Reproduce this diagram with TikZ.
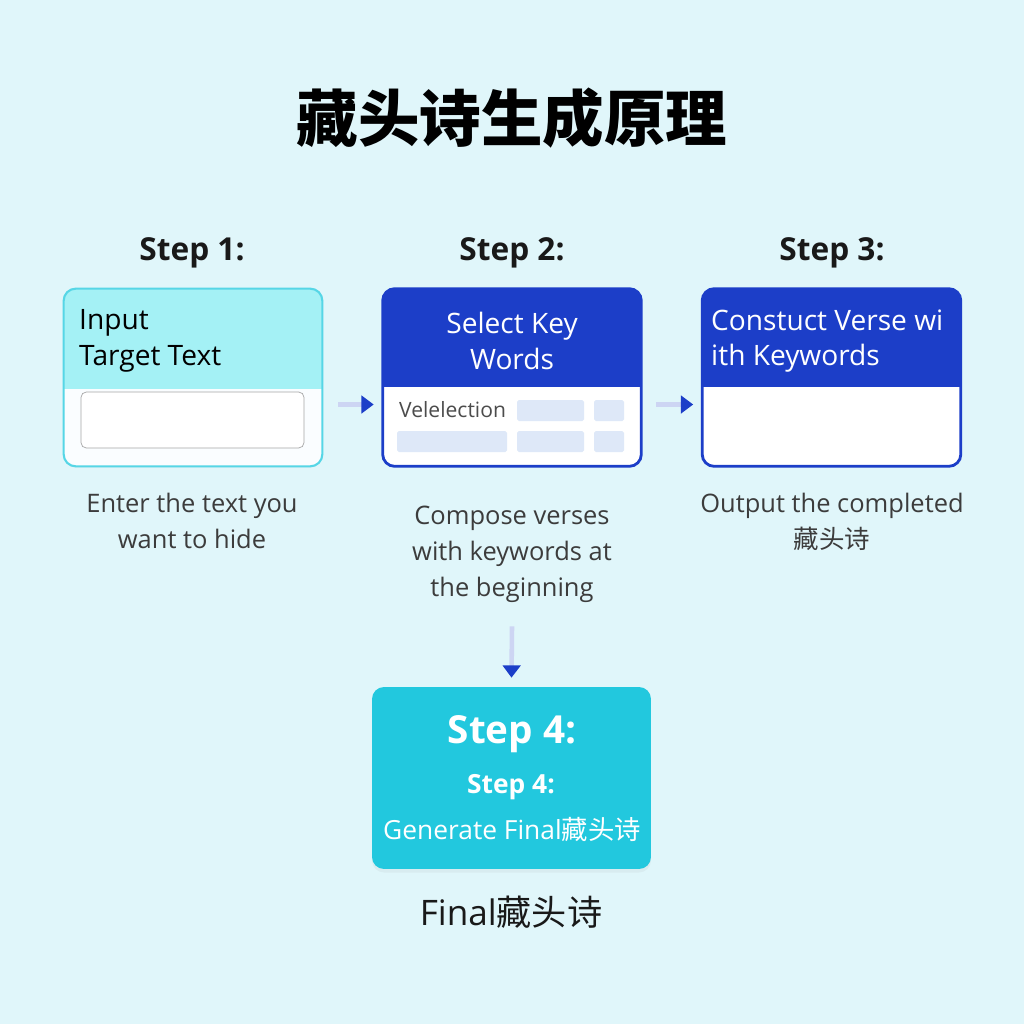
\documentclass[tikz,border=0pt]{standalone}
\usepackage{fontspec}
\setmainfont{Open Sans}
\newfontfamily\cjk{Noto Sans CJK SC}
\usetikzlibrary{positioning,arrows.meta,shadows}
\definecolor{bgcol}{RGB}{224,246,250}
\definecolor{deepblue}{RGB}{28,62,200}
\definecolor{cyantop}{RGB}{164,241,245}
\definecolor{cyanline}{RGB}{86,214,230}
\definecolor{cyanbox}{RGB}{34,200,222}
\definecolor{slot}{RGB}{222,232,248}
\definecolor{captext}{RGB}{60,60,60}
\tikzstyle{card} = [rectangle, rounded corners=0.24cm, minimum width=5.16cm, minimum height=3.54cm, inner sep=0pt]
\tikzstyle{steplabel} = [font=\fontsize{18}{22}\selectfont\bfseries, text=black!90]
\tikzstyle{caption} = [align=center, text=captext, font=\fontsize{14.5}{20.4}\selectfont]
\tikzstyle{slotbox} = [fill=slot, rounded corners=1pt]
\tikzstyle{flow} = [line width=2.6pt, draw=deepblue!22, -{Triangle[length=7pt,width=10pt,color=deepblue]}]
\newcommand{\cts}{{\cjk 藏头诗}}

\begin{document}
\begin{tikzpicture}[x=0.02cm, y=-0.02cm]
	\useasboundingbox[fill=bgcol] (0,0) rectangle (1024,1024);

	% TITLE
	\node[font=\cjk\bfseries\fontsize{35}{42}\selectfont] (title) at (512,118) {藏头诗生成原理};

	% STEP LABELS
	\node[steplabel] (s1) at (192,253) {Step 1:};
	\node[steplabel] (s2) at (512,253) {Step 2:};
	\node[steplabel] (s3) at (832,253) {Step 3:};

	% CARDS
	\coordinate (cut1) at (0,388);
	\coordinate (cut2) at (0,386);

	\node[card, fill=cyan!2, drop shadow={opacity=0.06, shadow xshift=0pt, shadow yshift=-1pt}] (b1) at (193,377.5) {};
	\begin{scope}
		\clip (b1.north west) rectangle (b1.east |- cut1);
		\fill[cyantop, rounded corners=0.24cm] (b1.north west) rectangle (b1.south east);
	\end{scope}
	\draw[cyanline, line width=1.2pt, rounded corners=0.24cm] (b1.north west) rectangle (b1.south east);
	\node[draw=black!35, fill=white, rounded corners=3pt, minimum width=4.46cm, minimum height=1.12cm] (field) at (192.5,420) {};
	\node[anchor=west, align=left, font=\fontsize{16}{20.4}\selectfont, text=black] (t1) at (73,341) {Input\\Target Text};

	\node[card, fill=white, drop shadow={opacity=0.06, shadow xshift=0pt, shadow yshift=-1pt}] (b2) at (512,377.5) {};
	\begin{scope}
		\clip (b2.north west) rectangle (b2.east |- cut2);
		\fill[deepblue, rounded corners=0.24cm] (b2.north west) rectangle (b2.south east);
	\end{scope}
	\draw[deepblue, line width=1.6pt, rounded corners=0.24cm] (b2.north west) rectangle (b2.south east);
	\node[align=center, font=\fontsize{16}{20.4}\selectfont, text=white] (t2) at (512,341) {Select Key\\Words};
	\node[anchor=west, font=\fontsize{12}{14}\selectfont, text=black!70] (sel) at (393,410) {Velelection};
	\fill[slotbox] (517,400) rectangle (584,421);
	\fill[slotbox] (594,400) rectangle (624,421);
	\fill[slotbox] (397,431) rectangle (507,452);
	\fill[slotbox] (517,431) rectangle (584,452);
	\fill[slotbox] (594,431) rectangle (624,452);

	\node[card, fill=white, drop shadow={opacity=0.06, shadow xshift=0pt, shadow yshift=-1pt}] (b3) at (831.5,377.5) {};
	\begin{scope}
		\clip (b3.north west) rectangle (b3.east |- cut2);
		\fill[deepblue, rounded corners=0.24cm] (b3.north west) rectangle (b3.south east);
	\end{scope}
	\draw[deepblue, line width=1.6pt, rounded corners=0.24cm] (b3.north west) rectangle (b3.south east);
	\node[anchor=west, align=left, font=\fontsize{16}{20.4}\selectfont, text=white] (t3) at (705,341) {Constuct Verse wi\\ith Keywords};

	% CAPTIONS
	\node[caption] (c1) at (192,521) {Enter the text you\\want to hide};
	\node[caption] (c2) at (512,554) {Compose verses\\with keywords at\\the beginning};
	\node[caption] (c3) at (832,522) {Output the completed\\\cts};

	% STEP 4
	\node[card, fill=cyanbox, minimum width=5.58cm, minimum height=3.64cm, drop shadow={opacity=0.08, shadow xshift=0pt, shadow yshift=-2pt}] (b4) at (511.5,778) {};
	\node[font=\fontsize{22}{26}\selectfont\bfseries, text=white] (t4a) at (512,734) {Step 4:};
	\node[font=\fontsize{15}{18}\selectfont\bfseries, text=white] (t4b) at (511,787) {Step 4:};
	\node[font=\fontsize{15}{18}\selectfont, text=white] (t4c) at (512,830) {Generate Final\cts};
	\node[font=\fontsize{20}{24}\selectfont, text=black!90] (fin) at (511,912) {Final\cts};

	% ARROWS
	\draw[flow] ([yshift=-27*0.02cm]b1.east) ++(16*0.02cm,0) coordinate (a1s) -- ([yshift=-27*0.02cm, xshift=-9*0.02cm]b2.west);
	\draw[flow] ([yshift=-27*0.02cm]b2.east) ++(15*0.02cm,0) coordinate (a2s) -- ([yshift=-27*0.02cm, xshift=-9*0.02cm]b3.west);
	\draw[flow] ([yshift=-18*0.02cm]c2.south) -- ([yshift=9*0.02cm]b4.north);
\end{tikzpicture}
\end{document}
